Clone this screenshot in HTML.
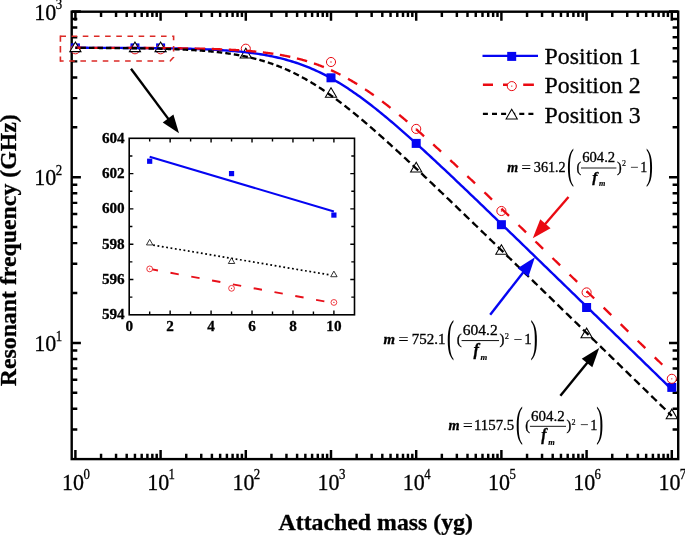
<!DOCTYPE html>
<html><head><meta charset="utf-8"><title>Resonant frequency vs attached mass</title>
<style>html,body{margin:0;padding:0;background:#fff}</style></head>
<body>
<svg width="685" height="535" viewBox="0 0 685 535" style="display:block;font-family:'Liberation Serif','Times New Roman',serif;stroke-linecap:butt">
<style>text{stroke:#000;stroke-width:0.3px;paint-order:stroke}text.t0{stroke:none}text.t1{stroke-width:0.15px}</style>
<rect width="685" height="535" fill="#fff"/>
<rect x="71.7" y="11.7" width="606.5" height="447.40000000000003" fill="none" stroke="#000" stroke-width="2.4"/>
<path d="M75.40,459.1 v-9 M75.40,11.7 v9 M101.05,459.1 v-5.3 M101.05,11.7 v5.3 M116.05,459.1 v-5.3 M116.05,11.7 v5.3 M126.70,459.1 v-5.3 M126.70,11.7 v5.3 M134.95,459.1 v-5.3 M134.95,11.7 v5.3 M141.70,459.1 v-5.3 M141.70,11.7 v5.3 M147.40,459.1 v-5.3 M147.40,11.7 v5.3 M152.34,459.1 v-5.3 M152.34,11.7 v5.3 M156.70,459.1 v-5.3 M156.70,11.7 v5.3 M160.60,459.1 v-9 M160.60,11.7 v9 M186.25,459.1 v-5.3 M186.25,11.7 v5.3 M201.25,459.1 v-5.3 M201.25,11.7 v5.3 M211.90,459.1 v-5.3 M211.90,11.7 v5.3 M220.15,459.1 v-5.3 M220.15,11.7 v5.3 M226.90,459.1 v-5.3 M226.90,11.7 v5.3 M232.60,459.1 v-5.3 M232.60,11.7 v5.3 M237.54,459.1 v-5.3 M237.54,11.7 v5.3 M241.90,459.1 v-5.3 M241.90,11.7 v5.3 M245.80,459.1 v-9 M245.80,11.7 v9 M271.45,459.1 v-5.3 M271.45,11.7 v5.3 M286.45,459.1 v-5.3 M286.45,11.7 v5.3 M297.10,459.1 v-5.3 M297.10,11.7 v5.3 M305.35,459.1 v-5.3 M305.35,11.7 v5.3 M312.10,459.1 v-5.3 M312.10,11.7 v5.3 M317.80,459.1 v-5.3 M317.80,11.7 v5.3 M322.74,459.1 v-5.3 M322.74,11.7 v5.3 M327.10,459.1 v-5.3 M327.10,11.7 v5.3 M331.00,459.1 v-9 M331.00,11.7 v9 M356.65,459.1 v-5.3 M356.65,11.7 v5.3 M371.65,459.1 v-5.3 M371.65,11.7 v5.3 M382.30,459.1 v-5.3 M382.30,11.7 v5.3 M390.55,459.1 v-5.3 M390.55,11.7 v5.3 M397.30,459.1 v-5.3 M397.30,11.7 v5.3 M403.00,459.1 v-5.3 M403.00,11.7 v5.3 M407.94,459.1 v-5.3 M407.94,11.7 v5.3 M412.30,459.1 v-5.3 M412.30,11.7 v5.3 M416.20,459.1 v-9 M416.20,11.7 v9 M441.85,459.1 v-5.3 M441.85,11.7 v5.3 M456.85,459.1 v-5.3 M456.85,11.7 v5.3 M467.50,459.1 v-5.3 M467.50,11.7 v5.3 M475.75,459.1 v-5.3 M475.75,11.7 v5.3 M482.50,459.1 v-5.3 M482.50,11.7 v5.3 M488.20,459.1 v-5.3 M488.20,11.7 v5.3 M493.14,459.1 v-5.3 M493.14,11.7 v5.3 M497.50,459.1 v-5.3 M497.50,11.7 v5.3 M501.40,459.1 v-9 M501.40,11.7 v9 M527.05,459.1 v-5.3 M527.05,11.7 v5.3 M542.05,459.1 v-5.3 M542.05,11.7 v5.3 M552.70,459.1 v-5.3 M552.70,11.7 v5.3 M560.95,459.1 v-5.3 M560.95,11.7 v5.3 M567.70,459.1 v-5.3 M567.70,11.7 v5.3 M573.40,459.1 v-5.3 M573.40,11.7 v5.3 M578.34,459.1 v-5.3 M578.34,11.7 v5.3 M582.70,459.1 v-5.3 M582.70,11.7 v5.3 M586.60,459.1 v-9 M586.60,11.7 v9 M612.25,459.1 v-5.3 M612.25,11.7 v5.3 M627.25,459.1 v-5.3 M627.25,11.7 v5.3 M637.90,459.1 v-5.3 M637.90,11.7 v5.3 M646.15,459.1 v-5.3 M646.15,11.7 v5.3 M652.90,459.1 v-5.3 M652.90,11.7 v5.3 M658.60,459.1 v-5.3 M658.60,11.7 v5.3 M663.54,459.1 v-5.3 M663.54,11.7 v5.3 M667.90,459.1 v-5.3 M667.90,11.7 v5.3 M671.80,459.1 v-9 M671.80,11.7 v9 M71.7,429.54 h5.6 M678.2,429.54 h-5.6 M71.7,408.84 h5.6 M678.2,408.84 h-5.6 M71.7,392.78 h5.6 M678.2,392.78 h-5.6 M71.7,379.66 h5.6 M678.2,379.66 h-5.6 M71.7,368.57 h5.6 M678.2,368.57 h-5.6 M71.7,358.96 h5.6 M678.2,358.96 h-5.6 M71.7,350.48 h5.6 M678.2,350.48 h-5.6 M71.7,342.90 h9.2 M678.2,342.90 h-9.2 M71.7,293.02 h5.6 M678.2,293.02 h-5.6 M71.7,263.84 h5.6 M678.2,263.84 h-5.6 M71.7,243.14 h5.6 M678.2,243.14 h-5.6 M71.7,227.08 h5.6 M678.2,227.08 h-5.6 M71.7,213.96 h5.6 M678.2,213.96 h-5.6 M71.7,202.87 h5.6 M678.2,202.87 h-5.6 M71.7,193.26 h5.6 M678.2,193.26 h-5.6 M71.7,184.78 h5.6 M678.2,184.78 h-5.6 M71.7,177.20 h9.2 M678.2,177.20 h-9.2 M71.7,127.32 h5.6 M678.2,127.32 h-5.6 M71.7,98.14 h5.6 M678.2,98.14 h-5.6 M71.7,77.44 h5.6 M678.2,77.44 h-5.6 M71.7,61.38 h5.6 M678.2,61.38 h-5.6 M71.7,48.26 h5.6 M678.2,48.26 h-5.6 M71.7,37.17 h5.6 M678.2,37.17 h-5.6 M71.7,27.56 h5.6 M678.2,27.56 h-5.6 M71.7,19.08 h5.6 M678.2,19.08 h-5.6 M71.7,11.50 h9.2 M678.2,11.50 h-9.2" stroke="#000" stroke-width="2.45" fill="none"/>
<g id="markers">
<rect x="70.90" y="43.40" width="9" height="9" fill="#0505f2"/>
<rect x="130.45" y="43.40" width="9" height="9" fill="#0505f2"/>
<rect x="156.10" y="43.40" width="9" height="9" fill="#0505f2"/>
<rect x="326.50" y="73.30" width="9" height="9" fill="#0505f2"/>
<rect x="411.70" y="138.90" width="9" height="9" fill="#0505f2"/>
<rect x="496.90" y="220.20" width="9" height="9" fill="#0505f2"/>
<rect x="582.10" y="303.00" width="9" height="9" fill="#0505f2"/>
<rect x="667.30" y="382.90" width="9" height="9" fill="#0505f2"/>
<circle cx="75.40" cy="49.30" r="4.55" fill="#fff" stroke="#ea0a12" stroke-width="1.0"/><circle cx="75.40" cy="49.30" r="0.65" fill="#ea0a12"/>
<circle cx="134.95" cy="49.30" r="4.55" fill="#fff" stroke="#ea0a12" stroke-width="1.0"/><circle cx="134.95" cy="49.30" r="0.65" fill="#ea0a12"/>
<circle cx="160.60" cy="49.30" r="4.55" fill="#fff" stroke="#ea0a12" stroke-width="1.0"/><circle cx="160.60" cy="49.30" r="0.65" fill="#ea0a12"/>
<circle cx="245.80" cy="48.70" r="4.55" fill="#fff" stroke="#ea0a12" stroke-width="1.0"/><circle cx="245.80" cy="48.70" r="0.65" fill="#ea0a12"/>
<circle cx="331.00" cy="62.00" r="4.55" fill="#fff" stroke="#ea0a12" stroke-width="1.0"/><circle cx="331.00" cy="62.00" r="0.65" fill="#ea0a12"/>
<circle cx="416.20" cy="128.90" r="4.55" fill="#fff" stroke="#ea0a12" stroke-width="1.0"/><circle cx="416.20" cy="128.90" r="0.65" fill="#ea0a12"/>
<circle cx="501.40" cy="211.00" r="4.55" fill="#fff" stroke="#ea0a12" stroke-width="1.0"/><circle cx="501.40" cy="211.00" r="0.65" fill="#ea0a12"/>
<circle cx="586.60" cy="292.40" r="4.55" fill="#fff" stroke="#ea0a12" stroke-width="1.0"/><circle cx="586.60" cy="292.40" r="0.65" fill="#ea0a12"/>
<circle cx="671.80" cy="378.80" r="4.55" fill="#fff" stroke="#ea0a12" stroke-width="1.0"/><circle cx="671.80" cy="378.80" r="0.65" fill="#ea0a12"/>
<path d="M75.40,42.02 L81.00,51.62 L69.80,51.62 Z" fill="#fff" stroke="#000" stroke-width="1.05" stroke-linejoin="miter"/>
<path d="M134.95,42.02 L140.55,51.62 L129.35,51.62 Z" fill="#fff" stroke="#000" stroke-width="1.05" stroke-linejoin="miter"/>
<path d="M160.60,42.02 L166.20,51.62 L155.00,51.62 Z" fill="#fff" stroke="#000" stroke-width="1.05" stroke-linejoin="miter"/>
<path d="M245.80,48.32 L251.40,57.92 L240.20,57.92 Z" fill="#fff" stroke="#000" stroke-width="1.05" stroke-linejoin="miter"/>
<path d="M331.00,87.72 L336.60,97.32 L325.40,97.32 Z" fill="#fff" stroke="#000" stroke-width="1.05" stroke-linejoin="miter"/>
<path d="M416.20,162.32 L421.80,171.92 L410.60,171.92 Z" fill="#fff" stroke="#000" stroke-width="1.05" stroke-linejoin="miter"/>
<path d="M501.40,244.72 L507.00,254.32 L495.80,254.32 Z" fill="#fff" stroke="#000" stroke-width="1.05" stroke-linejoin="miter"/>
<path d="M586.60,328.12 L592.20,337.72 L581.00,337.72 Z" fill="#fff" stroke="#000" stroke-width="1.05" stroke-linejoin="miter"/>
<path d="M671.80,409.12 L677.40,418.72 L666.20,418.72 Z" fill="#fff" stroke="#000" stroke-width="1.05" stroke-linejoin="miter"/>
</g>
<path d="M75.40,47.81 L77.39,47.81 L79.38,47.81 L81.36,47.81 L83.35,47.82 L85.34,47.82 L87.33,47.82 L89.32,47.83 L91.30,47.83 L93.29,47.84 L95.28,47.84 L97.27,47.84 L99.26,47.85 L101.24,47.85 L103.23,47.86 L105.22,47.87 L107.21,47.87 L109.20,47.88 L111.18,47.88 L113.17,47.89 L115.16,47.90 L117.15,47.91 L119.14,47.91 L121.12,47.92 L123.11,47.93 L125.10,47.94 L127.09,47.95 L129.08,47.96 L131.06,47.97 L133.05,47.98 L135.04,48.00 L137.03,48.01 L139.02,48.02 L141.00,48.04 L142.99,48.05 L144.98,48.07 L146.97,48.09 L148.96,48.11 L150.94,48.13 L152.93,48.15 L154.92,48.17 L156.91,48.19 L158.90,48.21 L160.88,48.24 L162.87,48.26 L164.86,48.29 L166.85,48.32 L168.84,48.35 L170.82,48.38 L172.81,48.42 L174.80,48.45 L176.79,48.49 L178.78,48.53 L180.76,48.57 L182.75,48.62 L184.74,48.67 L186.73,48.71 L188.72,48.77 L190.70,48.82 L192.69,48.88 L194.68,48.94 L196.67,49.00 L198.66,49.07 L200.64,49.14 L202.63,49.22 L204.62,49.30 L206.61,49.38 L208.60,49.47 L210.58,49.56 L212.57,49.66 L214.56,49.76 L216.55,49.87 L218.54,49.98 L220.52,50.10 L222.51,50.22 L224.50,50.35 L226.49,50.49 L228.48,50.64 L230.46,50.79 L232.45,50.95 L234.44,51.12 L236.43,51.29 L238.42,51.48 L240.40,51.67 L242.39,51.88 L244.38,52.09 L246.37,52.32 L248.36,52.55 L250.34,52.80 L252.33,53.06 L254.32,53.33 L256.31,53.61 L258.30,53.91 L260.28,54.22 L262.27,54.54 L264.26,54.88 L266.25,55.24 L268.24,55.61 L270.22,56.00 L272.21,56.40 L274.20,56.82 L276.19,57.26 L278.18,57.72 L280.16,58.20 L282.15,58.69 L284.14,59.21 L286.13,59.75 L288.12,60.31 L290.10,60.89 L292.09,61.49 L294.08,62.11 L296.07,62.76 L298.06,63.43 L300.04,64.12 L302.03,64.84 L304.02,65.59 L306.01,66.35 L308.00,67.15 L309.98,67.97 L311.97,68.81 L313.96,69.68 L315.95,70.57 L317.94,71.49 L319.92,72.44 L321.91,73.41 L323.90,74.41 L325.89,75.44 L327.88,76.49 L329.86,77.56 L331.85,78.66 L333.84,79.79 L335.83,80.94 L337.82,82.12 L339.80,83.32 L341.79,84.55 L343.78,85.80 L345.77,87.07 L347.76,88.37 L349.74,89.68 L351.73,91.03 L353.72,92.39 L355.71,93.77 L357.70,95.18 L359.68,96.60 L361.67,98.05 L363.66,99.52 L365.65,101.00 L367.64,102.50 L369.62,104.02 L371.61,105.56 L373.60,107.11 L375.59,108.68 L377.58,110.27 L379.56,111.87 L381.55,113.48 L383.54,115.11 L385.53,116.75 L387.52,118.41 L389.50,120.08 L391.49,121.76 L393.48,123.45 L395.47,125.15 L397.46,126.86 L399.44,128.59 L401.43,130.32 L403.42,132.06 L405.41,133.82 L407.40,135.58 L409.38,137.35 L411.37,139.12 L413.36,140.91 L415.35,142.70 L417.34,144.50 L419.32,146.30 L421.31,148.11 L423.30,149.93 L425.29,151.75 L427.28,153.58 L429.26,155.42 L431.25,157.25 L433.24,159.10 L435.23,160.94 L437.22,162.80 L439.20,164.65 L441.19,166.51 L443.18,168.38 L445.17,170.24 L447.16,172.11 L449.14,173.99 L451.13,175.87 L453.12,177.74 L455.11,179.63 L457.10,181.51 L459.08,183.40 L461.07,185.29 L463.06,187.18 L465.05,189.08 L467.04,190.97 L469.02,192.87 L471.01,194.77 L473.00,196.67 L474.99,198.57 L476.98,200.48 L478.96,202.38 L480.95,204.29 L482.94,206.20 L484.93,208.11 L486.92,210.02 L488.90,211.93 L490.89,213.85 L492.88,215.76 L494.87,217.68 L496.86,219.59 L498.84,221.51 L500.83,223.43 L502.82,225.35 L504.81,227.27 L506.80,229.19 L508.78,231.11 L510.77,233.03 L512.76,234.95 L514.75,236.88 L516.74,238.80 L518.72,240.72 L520.71,242.65 L522.70,244.57 L524.69,246.50 L526.68,248.42 L528.66,250.35 L530.65,252.28 L532.64,254.20 L534.63,256.13 L536.62,258.06 L538.60,259.99 L540.59,261.91 L542.58,263.84 L544.57,265.77 L546.56,267.70 L548.54,269.63 L550.53,271.56 L552.52,273.49 L554.51,275.42 L556.50,277.35 L558.48,279.28 L560.47,281.21 L562.46,283.14 L564.45,285.07 L566.44,287.00 L568.42,288.93 L570.41,290.86 L572.40,292.79 L574.39,294.72 L576.38,296.65 L578.36,298.58 L580.35,300.52 L582.34,302.45 L584.33,304.38 L586.32,306.31 L588.30,308.24 L590.29,310.17 L592.28,312.11 L594.27,314.04 L596.26,315.97 L598.24,317.90 L600.23,319.83 L602.22,321.77 L604.21,323.70 L606.20,325.63 L608.18,327.56 L610.17,329.50 L612.16,331.43 L614.15,333.36 L616.14,335.29 L618.12,337.22 L620.11,339.16 L622.10,341.09 L624.09,343.02 L626.08,344.96 L628.06,346.89 L630.05,348.82 L632.04,350.75 L634.03,352.69 L636.02,354.62 L638.00,356.55 L639.99,358.48 L641.98,360.42 L643.97,362.35 L645.96,364.28 L647.94,366.22 L649.93,368.15 L651.92,370.08 L653.91,372.01 L655.90,373.95 L657.88,375.88 L659.87,377.81 L661.86,379.75 L663.85,381.68 L665.84,383.61 L667.82,385.55 L669.81,387.48 L671.80,389.41" fill="none" stroke="#0505f2" stroke-width="2.4"/>
<path d="M75.40,47.79 L75.92,47.79 L76.45,47.79 L76.97,47.79 L77.50,47.79 L78.02,47.79 L78.55,47.79 L79.07,47.79 L79.60,47.79 L80.12,47.79 L80.65,47.79 L81.17,47.79 L81.70,47.80 L82.22,47.80 L82.75,47.80 L83.27,47.80 L83.80,47.80 L84.32,47.80 L84.85,47.80 L85.37,47.80 L85.90,47.80 M92.44,47.81 L92.96,47.81 L93.49,47.81 L94.01,47.81 L94.54,47.81 L95.06,47.81 L95.59,47.81 L96.11,47.81 L96.64,47.81 L97.16,47.81 L97.69,47.82 L98.21,47.82 L98.74,47.82 L99.26,47.82 L99.79,47.82 L100.31,47.82 L100.84,47.82 L101.36,47.82 L101.89,47.82 L102.41,47.82 L102.94,47.82 M109.48,47.84 L110.00,47.84 L110.53,47.84 L111.05,47.84 L111.58,47.84 L112.10,47.84 L112.63,47.84 L113.15,47.84 L113.68,47.85 L114.20,47.85 L114.73,47.85 L115.25,47.85 L115.78,47.85 L116.30,47.85 L116.83,47.85 L117.35,47.85 L117.88,47.86 L118.40,47.86 L118.93,47.86 L119.45,47.86 L119.98,47.86 M126.52,47.88 L127.04,47.88 L127.57,47.89 L128.09,47.89 L128.62,47.89 L129.14,47.89 L129.67,47.89 L130.19,47.89 L130.72,47.90 L131.24,47.90 L131.77,47.90 L132.29,47.90 L132.82,47.90 L133.34,47.91 L133.87,47.91 L134.39,47.91 L134.92,47.91 L135.44,47.92 L135.97,47.92 L136.49,47.92 L137.02,47.92 M143.56,47.95 L144.08,47.96 L144.61,47.96 L145.13,47.96 L145.66,47.97 L146.18,47.97 L146.71,47.97 L147.23,47.97 L147.76,47.98 L148.28,47.98 L148.81,47.98 L149.33,47.99 L149.86,47.99 L150.38,47.99 L150.91,48.00 L151.43,48.00 L151.96,48.00 L152.48,48.01 L153.01,48.01 L153.53,48.01 L154.06,48.02 M160.60,48.07 L161.12,48.07 L161.65,48.08 L162.17,48.08 L162.70,48.09 L163.22,48.09 L163.75,48.10 L164.27,48.10 L164.80,48.10 L165.32,48.11 L165.85,48.11 L166.37,48.12 L166.90,48.13 L167.42,48.13 L167.95,48.14 L168.47,48.14 L169.00,48.15 L169.52,48.15 L170.05,48.16 L170.57,48.16 L171.10,48.17 M177.64,48.25 L178.16,48.25 L178.69,48.26 L179.21,48.27 L179.74,48.28 L180.26,48.28 L180.79,48.29 L181.31,48.30 L181.84,48.31 L182.36,48.31 L182.89,48.32 L183.41,48.33 L183.94,48.34 L184.46,48.35 L184.99,48.35 L185.51,48.36 L186.04,48.37 L186.56,48.38 L187.09,48.39 L187.61,48.40 L188.14,48.41 M194.68,48.53 L195.20,48.54 L195.73,48.55 L196.25,48.56 L196.78,48.58 L197.30,48.59 L197.83,48.60 L198.35,48.61 L198.88,48.62 L199.40,48.63 L199.93,48.65 L200.45,48.66 L200.98,48.67 L201.50,48.69 L202.03,48.70 L202.55,48.71 L203.08,48.73 L203.60,48.74 L204.13,48.75 L204.65,48.77 L205.18,48.78 M211.72,48.98 L212.24,48.99 L212.77,49.01 L213.29,49.03 L213.82,49.04 L214.34,49.06 L214.87,49.08 L215.39,49.10 L215.92,49.12 L216.44,49.14 L216.97,49.16 L217.49,49.18 L218.02,49.20 L218.54,49.22 L219.07,49.24 L219.59,49.26 L220.12,49.28 L220.64,49.30 L221.17,49.32 L221.69,49.34 L222.22,49.37 M228.76,49.67 L229.28,49.69 L229.81,49.72 L230.33,49.75 L230.86,49.78 L231.38,49.80 L231.91,49.83 L232.43,49.86 L232.96,49.89 L233.48,49.92 L234.01,49.95 L234.53,49.98 L235.06,50.01 L235.58,50.04 L236.11,50.07 L236.63,50.11 L237.16,50.14 L237.68,50.17 L238.21,50.21 L238.73,50.24 L239.26,50.27 M245.80,50.74 L246.32,50.78 L246.85,50.82 L247.37,50.86 L247.90,50.91 L248.42,50.95 L248.95,50.99 L249.47,51.04 L250.00,51.08 L250.52,51.13 L251.05,51.17 L251.57,51.22 L252.10,51.27 L252.62,51.31 L253.15,51.36 L253.67,51.41 L254.20,51.46 L254.72,51.51 L255.25,51.56 L255.77,51.61 L256.30,51.67 M262.84,52.38 L263.34,52.43 L263.84,52.49 L264.34,52.55 L264.84,52.62 L265.34,52.68 L265.84,52.74 L266.34,52.80 L266.84,52.87 L267.34,52.93 L267.84,53.00 L268.34,53.06 L268.84,53.13 L269.34,53.20 L269.84,53.27 L270.34,53.34 L270.84,53.41 L271.34,53.48 L271.84,53.55 L272.34,53.62 L272.84,53.70 L273.34,53.77 M279.88,54.82 L280.40,54.92 L280.92,55.01 L281.44,55.10 L281.96,55.19 L282.48,55.29 L283.00,55.39 L283.52,55.48 L284.04,55.58 L284.56,55.68 L285.08,55.78 L285.60,55.88 L286.12,55.98 L286.64,56.09 L287.16,56.19 L287.68,56.30 L288.20,56.41 L288.72,56.52 L289.24,56.63 L289.76,56.74 L290.28,56.85 M296.92,58.39 L297.43,58.52 L297.94,58.65 L298.45,58.78 L298.96,58.91 L299.47,59.05 L299.98,59.18 L300.49,59.32 L301.00,59.45 L301.51,59.59 L302.02,59.73 L302.53,59.87 L303.04,60.01 L303.55,60.16 L304.06,60.30 L304.57,60.45 L305.08,60.60 L305.59,60.75 L306.10,60.90 L306.61,61.05 L307.12,61.20 M313.96,63.41 L314.48,63.59 L315.00,63.77 L315.52,63.96 L316.04,64.14 L316.57,64.33 L317.09,64.52 L317.61,64.71 L318.13,64.90 L318.65,65.09 L319.17,65.28 L319.69,65.48 L320.21,65.68 L320.73,65.88 L321.25,66.08 L321.78,66.28 L322.30,66.49 L322.82,66.69 L323.34,66.90 L323.86,67.11 M331.00,70.16 L331.50,70.39 L332.00,70.62 L332.50,70.85 L333.00,71.08 L333.50,71.31 L334.00,71.55 L334.50,71.78 L335.00,72.02 L335.50,72.26 L336.00,72.50 L336.50,72.74 L337.00,72.99 L337.50,73.23 L338.00,73.48 L338.50,73.73 L339.00,73.98 L339.50,74.23 L340.00,74.49 L340.50,74.74 M348.04,78.79 L348.55,79.08 L349.05,79.37 L349.56,79.65 L350.06,79.94 L350.57,80.24 L351.07,80.53 L351.58,80.82 L352.08,81.12 L352.59,81.42 L353.10,81.72 L353.60,82.02 L354.11,82.32 L354.61,82.63 L355.12,82.93 L355.62,83.24 L356.13,83.55 L356.63,83.86 L357.14,84.17 M365.08,89.27 L365.59,89.61 L366.10,89.96 L366.62,90.30 L367.13,90.65 L367.64,90.99 L368.15,91.34 L368.66,91.69 L369.17,92.04 L369.69,92.40 L370.20,92.75 L370.71,93.11 L371.22,93.46 L371.73,93.82 L372.24,94.18 L372.76,94.54 L373.27,94.91 L373.78,95.27 M382.12,101.39 L382.65,101.79 L383.17,102.18 L383.70,102.58 L384.22,102.98 L384.75,103.38 L385.27,103.78 L385.80,104.19 L386.32,104.59 L386.85,105.00 L387.37,105.41 L387.90,105.81 L388.42,106.22 L388.95,106.63 L389.47,107.05 L390.00,107.46 L390.52,107.87 M399.16,114.84 L399.67,115.25 L400.17,115.67 L400.68,116.09 L401.19,116.51 L401.69,116.93 L402.20,117.35 L402.70,117.77 L403.21,118.19 L403.72,118.61 L404.22,119.04 L404.73,119.46 L405.24,119.89 L405.74,120.32 L406.25,120.74 L406.75,121.17 L407.26,121.60 M416.20,129.29 L416.73,129.75 L417.25,130.21 L417.78,130.67 L418.31,131.13 L418.83,131.59 L419.36,132.05 L419.89,132.52 L420.41,132.98 L420.94,133.44 L421.47,133.91 L421.99,134.38 L422.52,134.84 L423.05,135.31 L423.57,135.78 L424.10,136.24 M433.24,144.45 L433.76,144.92 L434.28,145.40 L434.80,145.87 L435.32,146.34 L435.84,146.81 L436.36,147.29 L436.88,147.76 L437.40,148.24 L437.92,148.71 L438.44,149.19 L438.96,149.66 L439.48,150.14 L440.00,150.61 L440.52,151.09 L441.04,151.57 M450.28,160.11 L450.79,160.58 L451.31,161.06 L451.82,161.54 L452.33,162.02 L452.85,162.50 L453.36,162.97 L453.87,163.45 L454.39,163.93 L454.90,164.41 L455.41,164.89 L455.93,165.37 L456.44,165.85 L456.95,166.33 L457.47,166.81 L457.98,167.30 M467.32,176.09 L467.83,176.57 L468.35,177.06 L468.86,177.54 L469.37,178.03 L469.89,178.51 L470.40,179.00 L470.91,179.49 L471.43,179.97 L471.94,180.46 L472.45,180.95 L472.97,181.43 L473.48,181.92 L473.99,182.41 L474.51,182.90 L475.02,183.38 M484.36,192.28 L484.87,192.76 L485.37,193.25 L485.88,193.73 L486.39,194.22 L486.89,194.70 L487.40,195.18 L487.91,195.67 L488.41,196.15 L488.92,196.64 L489.43,197.12 L489.93,197.61 L490.44,198.09 L490.95,198.58 L491.45,199.06 L491.96,199.55 M501.40,208.61 L501.91,209.10 L502.41,209.58 L502.92,210.07 L503.43,210.56 L503.93,211.05 L504.44,211.53 L504.95,212.02 L505.45,212.51 L505.96,213.00 L506.47,213.48 L506.97,213.97 L507.48,214.46 L507.99,214.95 L508.49,215.44 L509.00,215.92 M518.44,225.03 L518.95,225.52 L519.45,226.01 L519.96,226.50 L520.47,226.98 L520.97,227.47 L521.48,227.96 L521.99,228.45 L522.49,228.94 L523.00,229.43 L523.51,229.92 L524.01,230.41 L524.52,230.90 L525.03,231.39 L525.53,231.88 L526.04,232.37 M535.48,241.50 L535.99,241.99 L536.49,242.48 L537.00,242.97 L537.51,243.46 L538.01,243.95 L538.52,244.44 L539.03,244.93 L539.53,245.43 L540.04,245.92 L540.55,246.41 L541.05,246.90 L541.56,247.39 L542.07,247.88 L542.57,248.37 L543.08,248.86 M552.52,258.01 L553.03,258.50 L553.53,258.99 L554.04,259.48 L554.55,259.98 L555.05,260.47 L555.56,260.96 L556.07,261.45 L556.57,261.94 L557.08,262.43 L557.59,262.92 L558.09,263.42 L558.60,263.91 L559.11,264.40 L559.61,264.89 L560.12,265.38 M569.56,274.54 L570.07,275.03 L570.57,275.53 L571.08,276.02 L571.59,276.51 L572.09,277.00 L572.60,277.49 L573.11,277.98 L573.61,278.48 L574.12,278.97 L574.63,279.46 L575.13,279.95 L575.64,280.44 L576.15,280.94 L576.65,281.43 L577.16,281.92 M586.60,291.09 L587.11,291.58 L587.61,292.07 L588.12,292.56 L588.63,293.06 L589.13,293.55 L589.64,294.04 L590.15,294.53 L590.65,295.02 L591.16,295.52 L591.67,296.01 L592.17,296.50 L592.68,296.99 L593.19,297.49 L593.69,297.98 L594.20,298.47 M603.64,307.64 L604.15,308.13 L604.65,308.63 L605.16,309.12 L605.67,309.61 L606.17,310.10 L606.68,310.60 L607.19,311.09 L607.69,311.58 L608.20,312.07 L608.71,312.57 L609.21,313.06 L609.72,313.55 L610.23,314.04 L610.73,314.54 L611.24,315.03 M620.68,324.20 L621.19,324.69 L621.69,325.19 L622.20,325.68 L622.71,326.17 L623.21,326.66 L623.72,327.16 L624.23,327.65 L624.73,328.14 L625.24,328.63 L625.75,329.13 L626.25,329.62 L626.76,330.11 L627.27,330.60 L627.77,331.10 L628.28,331.59 M637.72,340.77 L638.23,341.26 L638.73,341.75 L639.24,342.24 L639.75,342.74 L640.25,343.23 L640.76,343.72 L641.27,344.21 L641.77,344.71 L642.28,345.20 L642.79,345.69 L643.29,346.18 L643.80,346.68 L644.31,347.17 L644.81,347.66 L645.32,348.15 M654.76,357.33 L655.27,357.82 L655.77,358.32 L656.28,358.81 L656.79,359.30 L657.29,359.80 L657.80,360.29 L658.31,360.78 L658.81,361.27 L659.32,361.77 L659.83,362.26 L660.33,362.75 L660.84,363.24 L661.35,363.74 L661.85,364.23 L662.36,364.72" fill="none" stroke="#ea0a12" stroke-width="2.35"/>
<path d="M75.40,47.86 L75.90,47.86 L76.40,47.86 L76.90,47.86 L77.40,47.86 M80.42,47.87 L80.92,47.87 L81.42,47.88 L81.92,47.88 L82.42,47.88 L82.92,47.88 L83.42,47.88 L83.92,47.88 L84.42,47.89 L84.92,47.89 L85.42,47.89 L85.92,47.89 M88.94,47.90 L89.44,47.90 L89.94,47.91 L90.44,47.91 L90.94,47.91 L91.44,47.91 L91.94,47.91 L92.44,47.92 L92.94,47.92 L93.44,47.92 L93.94,47.92 L94.44,47.92 M97.46,47.94 L97.96,47.94 L98.46,47.94 L98.96,47.95 L99.46,47.95 L99.96,47.95 L100.46,47.95 L100.96,47.96 L101.46,47.96 L101.96,47.96 L102.46,47.96 L102.96,47.97 M105.98,47.99 L106.48,47.99 L106.98,47.99 L107.48,47.99 L107.98,48.00 L108.48,48.00 L108.98,48.00 L109.48,48.01 L109.98,48.01 L110.48,48.01 L110.98,48.02 L111.48,48.02 M114.50,48.04 L115.00,48.05 L115.50,48.05 L116.00,48.06 L116.50,48.06 L117.00,48.06 L117.50,48.07 L118.00,48.07 L118.50,48.08 L119.00,48.08 L119.50,48.08 L120.00,48.09 M123.02,48.12 L123.52,48.12 L124.02,48.13 L124.52,48.13 L125.02,48.14 L125.52,48.14 L126.02,48.15 L126.52,48.15 L127.02,48.16 L127.52,48.16 L128.02,48.17 L128.52,48.17 M131.54,48.21 L132.04,48.22 L132.54,48.22 L133.04,48.23 L133.54,48.23 L134.04,48.24 L134.54,48.25 L135.04,48.25 L135.54,48.26 L136.04,48.27 L136.54,48.27 L137.04,48.28 M140.06,48.33 L140.56,48.33 L141.06,48.34 L141.56,48.35 L142.06,48.36 L142.56,48.36 L143.06,48.37 L143.56,48.38 L144.06,48.39 L144.56,48.40 L145.06,48.41 L145.56,48.42 M148.58,48.47 L149.08,48.48 L149.58,48.49 L150.08,48.50 L150.58,48.51 L151.08,48.52 L151.58,48.53 L152.08,48.54 L152.58,48.55 L153.08,48.56 L153.58,48.57 L154.08,48.58 M157.10,48.65 L157.60,48.67 L158.10,48.68 L158.60,48.69 L159.10,48.70 L159.60,48.72 L160.10,48.73 L160.60,48.74 L161.10,48.75 L161.60,48.77 L162.10,48.78 L162.60,48.79 M165.62,48.88 L166.12,48.90 L166.62,48.91 L167.12,48.93 L167.62,48.94 L168.12,48.96 L168.62,48.97 L169.12,48.99 L169.62,49.01 L170.12,49.02 L170.62,49.04 L171.12,49.06 M174.14,49.17 L174.64,49.19 L175.14,49.20 L175.64,49.22 L176.14,49.24 L176.64,49.26 L177.14,49.28 L177.64,49.30 L178.14,49.32 L178.64,49.34 L179.14,49.37 L179.64,49.39 M182.66,49.52 L183.16,49.55 L183.66,49.57 L184.16,49.59 L184.66,49.62 L185.16,49.64 L185.66,49.67 L186.16,49.69 L186.66,49.72 L187.16,49.74 L187.66,49.77 L188.16,49.80 M191.18,49.97 L191.68,49.99 L192.18,50.02 L192.68,50.05 L193.18,50.08 L193.68,50.11 L194.18,50.15 L194.68,50.18 L195.18,50.21 L195.68,50.24 L196.18,50.27 L196.68,50.31 M199.70,50.52 L200.20,50.55 L200.70,50.59 L201.20,50.63 L201.70,50.66 L202.20,50.70 L202.70,50.74 L203.20,50.78 L203.70,50.82 L204.20,50.86 L204.70,50.90 L205.20,50.94 M208.22,51.20 L208.72,51.24 L209.22,51.29 L209.72,51.33 L210.22,51.38 L210.72,51.43 L211.22,51.47 L211.72,51.52 L212.22,51.57 L212.72,51.62 L213.22,51.67 L213.72,51.72 M216.74,52.04 L217.24,52.09 L217.74,52.15 L218.24,52.20 L218.74,52.26 L219.24,52.32 L219.74,52.37 L220.24,52.43 L220.74,52.49 L221.24,52.55 L221.74,52.61 L222.24,52.68 M225.26,53.07 L225.76,53.13 L226.26,53.20 L226.76,53.27 L227.26,53.34 L227.76,53.41 L228.26,53.48 L228.76,53.55 L229.26,53.62 L229.76,53.70 L230.26,53.77 L230.76,53.85 M233.78,54.32 L234.28,54.40 L234.78,54.48 L235.28,54.57 L235.78,54.65 L236.28,54.74 L236.78,54.82 L237.28,54.91 L237.78,55.00 L238.28,55.09 L238.78,55.18 L239.28,55.27 M242.30,55.84 L242.80,55.94 L243.30,56.04 L243.80,56.14 L244.30,56.24 L244.80,56.34 L245.30,56.45 L245.80,56.55 L246.30,56.66 L246.80,56.77 L247.30,56.87 L247.80,56.98 M250.82,57.67 L251.32,57.79 L251.82,57.90 L252.32,58.02 L252.82,58.15 L253.32,58.27 L253.82,58.39 L254.32,58.52 L254.82,58.64 L255.32,58.77 L255.82,58.90 L256.32,59.03 M259.34,59.84 L259.84,59.98 L260.34,60.12 L260.84,60.27 L261.34,60.41 L261.84,60.55 L262.34,60.70 L262.84,60.85 L263.34,61.00 L263.84,61.15 L264.34,61.30 L264.84,61.45 M267.86,62.41 L268.36,62.57 L268.86,62.74 L269.36,62.90 L269.86,63.07 L270.36,63.24 L270.86,63.41 L271.36,63.58 L271.86,63.76 L272.36,63.93 L272.86,64.11 L273.36,64.29 M276.38,65.40 L276.88,65.59 L277.38,65.78 L277.88,65.97 L278.38,66.16 L278.88,66.36 L279.38,66.56 L279.88,66.75 L280.38,66.95 L280.88,67.16 L281.38,67.36 L281.88,67.56 M284.90,68.84 L285.40,69.05 L285.90,69.27 L286.40,69.49 L286.90,69.71 L287.40,69.94 L287.90,70.16 L288.40,70.39 L288.90,70.61 L289.40,70.84 L289.90,71.07 L290.40,71.31 M293.42,72.75 L293.92,72.99 L294.42,73.24 L294.92,73.48 L295.42,73.73 L295.92,73.98 L296.42,74.24 L296.92,74.49 L297.42,74.75 L297.92,75.00 L298.42,75.26 L298.92,75.52 M301.94,77.13 L302.44,77.41 L302.94,77.68 L303.44,77.95 L303.94,78.23 L304.44,78.51 L304.94,78.79 L305.44,79.07 L305.94,79.36 L306.44,79.64 L306.94,79.93 L307.44,80.21 M310.46,81.99 L310.96,82.29 L311.46,82.59 L311.96,82.89 L312.46,83.19 L312.96,83.50 L313.46,83.81 L313.96,84.12 L314.46,84.43 L314.96,84.74 L315.46,85.05 L315.96,85.36 M318.98,87.30 L319.48,87.62 L319.98,87.95 L320.48,88.27 L320.98,88.60 L321.48,88.93 L321.98,89.27 L322.48,89.60 L322.98,89.94 L323.48,90.27 L323.98,90.61 L324.48,90.95 M327.50,93.03 L328.00,93.37 L328.50,93.72 L329.00,94.08 L329.50,94.43 L330.00,94.78 L330.50,95.14 L331.00,95.49 L331.50,95.85 L332.00,96.21 L332.50,96.57 L333.00,96.93 M336.02,99.14 L336.52,99.51 L337.02,99.89 L337.52,100.26 L338.02,100.63 L338.52,101.01 L339.02,101.38 L339.52,101.76 L340.02,102.14 L340.52,102.52 L341.02,102.90 L341.52,103.28 M344.54,105.61 L345.04,106.00 L345.54,106.39 L346.04,106.78 L346.54,107.17 L347.04,107.57 L347.54,107.96 L348.04,108.36 L348.54,108.75 L349.04,109.15 L349.54,109.55 L350.04,109.95 M353.06,112.38 L353.56,112.79 L354.06,113.19 L354.56,113.60 L355.06,114.01 L355.56,114.42 L356.06,114.83 L356.56,115.24 L357.06,115.65 L357.56,116.07 L358.06,116.48 L358.56,116.89 M361.58,119.42 L362.08,119.84 L362.58,120.26 L363.08,120.68 L363.58,121.10 L364.08,121.52 L364.58,121.95 L365.08,122.37 L365.58,122.80 L366.08,123.22 L366.58,123.65 L367.08,124.08 M370.10,126.68 L370.60,127.11 L371.10,127.54 L371.60,127.97 L372.10,128.41 L372.60,128.84 L373.10,129.28 L373.60,129.72 L374.10,130.15 L374.60,130.59 L375.10,131.03 L375.60,131.47 M378.62,134.13 L379.12,134.57 L379.62,135.01 L380.12,135.45 L380.62,135.90 L381.12,136.34 L381.62,136.79 L382.12,137.23 L382.62,137.68 L383.12,138.13 L383.62,138.57 L384.12,139.02 M387.14,141.73 L387.64,142.18 L388.14,142.64 L388.64,143.09 L389.14,143.54 L389.64,143.99 L390.14,144.44 L390.64,144.90 L391.14,145.35 L391.64,145.81 L392.14,146.26 L392.64,146.72 M395.66,149.47 L396.16,149.93 L396.66,150.39 L397.16,150.85 L397.66,151.30 L398.16,151.76 L398.66,152.22 L399.16,152.68 L399.66,153.14 L400.16,153.60 L400.66,154.06 L401.16,154.52 M404.18,157.32 L404.68,157.78 L405.18,158.24 L405.68,158.71 L406.18,159.17 L406.68,159.63 L407.18,160.10 L407.68,160.56 L408.18,161.03 L408.68,161.49 L409.18,161.96 L409.68,162.43 M412.70,165.25 L413.20,165.71 L413.70,166.18 L414.20,166.65 L414.70,167.12 L415.20,167.59 L415.70,168.06 L416.20,168.53 L416.70,169.00 L417.20,169.46 L417.70,169.93 L418.20,170.40 M421.22,173.25 L421.72,173.72 L422.22,174.19 L422.72,174.66 L423.22,175.13 L423.72,175.61 L424.22,176.08 L424.72,176.55 L425.22,177.02 L425.72,177.50 L426.22,177.97 L426.72,178.44 M429.74,181.31 L430.24,181.78 L430.74,182.25 L431.24,182.73 L431.74,183.20 L432.24,183.68 L432.74,184.15 L433.24,184.63 L433.74,185.11 L434.24,185.58 L434.74,186.06 L435.24,186.53 M438.26,189.41 L438.76,189.89 L439.26,190.36 L439.76,190.84 L440.26,191.32 L440.76,191.79 L441.26,192.27 L441.76,192.75 L442.26,193.23 L442.76,193.70 L443.26,194.18 L443.76,194.66 M446.78,197.55 L447.28,198.03 L447.78,198.51 L448.28,198.99 L448.78,199.47 L449.28,199.94 L449.78,200.42 L450.28,200.90 L450.78,201.38 L451.28,201.86 L451.78,202.34 L452.28,202.82 M455.30,205.72 L455.80,206.20 L456.30,206.68 L456.80,207.16 L457.30,207.64 L457.80,208.12 L458.30,208.60 L458.80,209.08 L459.30,209.56 L459.80,210.04 L460.30,210.53 L460.80,211.01 M463.82,213.91 L464.32,214.39 L464.82,214.88 L465.32,215.36 L465.82,215.84 L466.32,216.32 L466.82,216.80 L467.32,217.28 L467.82,217.77 L468.32,218.25 L468.82,218.73 L469.32,219.21 M472.34,222.12 L472.84,222.61 L473.34,223.09 L473.84,223.57 L474.34,224.05 L474.84,224.54 L475.34,225.02 L475.84,225.50 L476.34,225.99 L476.84,226.47 L477.34,226.95 L477.84,227.43 M480.86,230.35 L481.36,230.83 L481.86,231.32 L482.36,231.80 L482.86,232.28 L483.36,232.77 L483.86,233.25 L484.36,233.73 L484.86,234.22 L485.36,234.70 L485.86,235.18 L486.36,235.67 M489.38,238.59 L489.88,239.07 L490.38,239.56 L490.88,240.04 L491.38,240.53 L491.88,241.01 L492.38,241.49 L492.88,241.98 L493.38,242.46 L493.88,242.95 L494.38,243.43 L494.88,243.91 M497.90,246.84 L498.40,247.32 L498.90,247.81 L499.40,248.29 L499.90,248.78 L500.40,249.26 L500.90,249.74 L501.40,250.23 L501.90,250.71 L502.40,251.20 L502.90,251.68 L503.40,252.17 M506.42,255.09 L506.92,255.58 L507.42,256.06 L507.92,256.55 L508.42,257.03 L508.92,257.52 L509.42,258.00 L509.92,258.49 L510.42,258.97 L510.92,259.46 L511.42,259.94 L511.92,260.43 M514.94,263.36 L515.44,263.84 L515.94,264.33 L516.44,264.81 L516.94,265.30 L517.44,265.78 L517.94,266.27 L518.44,266.75 L518.94,267.24 L519.44,267.72 L519.94,268.21 L520.44,268.69 M523.46,271.62 L523.96,272.11 L524.46,272.59 L524.96,273.08 L525.46,273.56 L525.96,274.05 L526.46,274.53 L526.96,275.02 L527.46,275.50 L527.96,275.99 L528.46,276.48 L528.96,276.96 M531.98,279.89 L532.48,280.38 L532.98,280.86 L533.48,281.35 L533.98,281.83 L534.48,282.32 L534.98,282.81 L535.48,283.29 L535.98,283.78 L536.48,284.26 L536.98,284.75 L537.48,285.23 M540.50,288.17 L541.00,288.65 L541.50,289.14 L542.00,289.62 L542.50,290.11 L543.00,290.59 L543.50,291.08 L544.00,291.57 L544.50,292.05 L545.00,292.54 L545.50,293.02 L546.00,293.51 M549.02,296.44 L549.52,296.93 L550.02,297.41 L550.52,297.90 L551.02,298.38 L551.52,298.87 L552.02,299.36 L552.52,299.84 L553.02,300.33 L553.52,300.81 L554.02,301.30 L554.52,301.78 M557.54,304.72 L558.04,305.20 L558.54,305.69 L559.04,306.18 L559.54,306.66 L560.04,307.15 L560.54,307.63 L561.04,308.12 L561.54,308.61 L562.04,309.09 L562.54,309.58 L563.04,310.06 M566.06,313.00 L566.56,313.48 L567.06,313.97 L567.56,314.46 L568.06,314.94 L568.56,315.43 L569.06,315.91 L569.56,316.40 L570.06,316.89 L570.56,317.37 L571.06,317.86 L571.56,318.34 M574.58,321.28 L575.08,321.76 L575.58,322.25 L576.08,322.74 L576.58,323.22 L577.08,323.71 L577.58,324.19 L578.08,324.68 L578.58,325.17 L579.08,325.65 L579.58,326.14 L580.08,326.62 M583.10,329.56 L583.60,330.05 L584.10,330.53 L584.60,331.02 L585.10,331.50 L585.60,331.99 L586.10,332.48 L586.60,332.96 L587.10,333.45 L587.60,333.93 L588.10,334.42 L588.60,334.91 M591.62,337.84 L592.12,338.33 L592.62,338.81 L593.12,339.30 L593.62,339.79 L594.12,340.27 L594.62,340.76 L595.12,341.24 L595.62,341.73 L596.12,342.22 L596.62,342.70 L597.12,343.19 M600.14,346.12 L600.64,346.61 L601.14,347.10 L601.64,347.58 L602.14,348.07 L602.64,348.55 L603.14,349.04 L603.64,349.53 L604.14,350.01 L604.64,350.50 L605.14,350.99 L605.64,351.47 M608.66,354.41 L609.16,354.89 L609.66,355.38 L610.16,355.87 L610.66,356.35 L611.16,356.84 L611.66,357.32 L612.16,357.81 L612.66,358.30 L613.16,358.78 L613.66,359.27 L614.16,359.75 M617.18,362.69 L617.68,363.18 L618.18,363.66 L618.68,364.15 L619.18,364.64 L619.68,365.12 L620.18,365.61 L620.68,366.09 L621.18,366.58 L621.68,367.07 L622.18,367.55 L622.68,368.04 M625.70,370.98 L626.20,371.46 L626.70,371.95 L627.20,372.43 L627.70,372.92 L628.20,373.41 L628.70,373.89 L629.20,374.38 L629.70,374.86 L630.20,375.35 L630.70,375.84 L631.20,376.32 M634.22,379.26 L634.72,379.75 L635.22,380.23 L635.72,380.72 L636.22,381.20 L636.72,381.69 L637.22,382.18 L637.72,382.66 L638.22,383.15 L638.72,383.63 L639.22,384.12 L639.72,384.61 M642.74,387.54 L643.24,388.03 L643.74,388.52 L644.24,389.00 L644.74,389.49 L645.24,389.97 L645.74,390.46 L646.24,390.95 L646.74,391.43 L647.24,391.92 L647.74,392.41 L648.24,392.89 M651.26,395.83 L651.76,396.31 L652.26,396.80 L652.76,397.29 L653.26,397.77 L653.76,398.26 L654.26,398.74 L654.76,399.23 L655.26,399.72 L655.76,400.20 L656.26,400.69 L656.76,401.18 M659.78,404.11 L660.28,404.60 L660.78,405.08 L661.28,405.57 L661.78,406.06 L662.28,406.54 L662.78,407.03 L663.28,407.52 L663.78,408.00 L664.28,408.49 L664.78,408.97 L665.28,409.46 M668.30,412.40 L668.80,412.88 L669.30,413.37 L669.80,413.86 L670.30,414.34 L670.80,414.83 L671.30,415.31 L671.80,415.80" fill="none" stroke="#000" stroke-width="2.35"/>
<text x="62.00" y="489.5" font-size="23" textLength="22" lengthAdjust="spacingAndGlyphs">10</text><text x="83.40" y="479.4" font-size="14" textLength="6.4" lengthAdjust="spacingAndGlyphs">0</text>
<text x="147.20" y="489.5" font-size="23" textLength="22" lengthAdjust="spacingAndGlyphs">10</text><text x="168.60" y="479.4" font-size="14" textLength="6.4" lengthAdjust="spacingAndGlyphs">1</text>
<text x="232.40" y="489.5" font-size="23" textLength="22" lengthAdjust="spacingAndGlyphs">10</text><text x="253.80" y="479.4" font-size="14" textLength="6.4" lengthAdjust="spacingAndGlyphs">2</text>
<text x="317.60" y="489.5" font-size="23" textLength="22" lengthAdjust="spacingAndGlyphs">10</text><text x="339.00" y="479.4" font-size="14" textLength="6.4" lengthAdjust="spacingAndGlyphs">3</text>
<text x="402.80" y="489.5" font-size="23" textLength="22" lengthAdjust="spacingAndGlyphs">10</text><text x="424.20" y="479.4" font-size="14" textLength="6.4" lengthAdjust="spacingAndGlyphs">4</text>
<text x="488.00" y="489.5" font-size="23" textLength="22" lengthAdjust="spacingAndGlyphs">10</text><text x="509.40" y="479.4" font-size="14" textLength="6.4" lengthAdjust="spacingAndGlyphs">5</text>
<text x="573.20" y="489.5" font-size="23" textLength="22" lengthAdjust="spacingAndGlyphs">10</text><text x="594.60" y="479.4" font-size="14" textLength="6.4" lengthAdjust="spacingAndGlyphs">6</text>
<text x="658.40" y="489.5" font-size="23" textLength="22" lengthAdjust="spacingAndGlyphs">10</text><text x="679.80" y="479.4" font-size="14" textLength="6.4" lengthAdjust="spacingAndGlyphs">7</text>
<text x="34.3" y="19.6" font-size="23" textLength="22" lengthAdjust="spacingAndGlyphs">10</text><text x="55.7" y="9.3" font-size="14" textLength="6.4" lengthAdjust="spacingAndGlyphs">3</text>
<text x="34.3" y="185.3" font-size="23" textLength="22" lengthAdjust="spacingAndGlyphs">10</text><text x="55.7" y="175.0" font-size="14" textLength="6.4" lengthAdjust="spacingAndGlyphs">2</text>
<text x="34.3" y="351.0" font-size="23" textLength="22" lengthAdjust="spacingAndGlyphs">10</text><text x="55.7" y="340.7" font-size="14" textLength="6.4" lengthAdjust="spacingAndGlyphs">1</text>
<text x="278.6" y="530.1" font-size="23.8" font-weight="bold" textLength="194.3" lengthAdjust="spacingAndGlyphs">Attached mass (yg)</text>
<text transform="translate(16.2,386.3) rotate(-90)" font-size="23.8" font-weight="bold" textLength="272" lengthAdjust="spacingAndGlyphs">Resonant frequency (GHz)</text>
<path d="M482.5,55.9 H538" stroke="#0505f2" stroke-width="2.4"/><rect x="507.20" y="51.90" width="9" height="9" fill="#0505f2"/>
<path d="M482.9,84.8 H493 M503,84.8 H508 M523.2,84.8 H533.9" stroke="#ea0a12" stroke-width="2.4"/><circle cx="511.80" cy="86.10" r="4.55" fill="#fff" stroke="#ea0a12" stroke-width="1.0"/><circle cx="511.80" cy="86.10" r="0.65" fill="#ea0a12"/>
<path d="M482.9,113.9 H534" stroke="#000" stroke-width="2.3" stroke-dasharray="5 4.1"/><path d="M511.70,109.32 L517.30,118.92 L506.10,118.92 Z" fill="#fff" stroke="#000" stroke-width="1.05" stroke-linejoin="miter"/>
<text x="544.6" y="64.2" font-size="23" textLength="96.0" lengthAdjust="spacingAndGlyphs">Position 1</text>
<text x="544.6" y="93.0" font-size="23" textLength="96.0" lengthAdjust="spacingAndGlyphs">Position 2</text>
<text x="544.6" y="123.4" font-size="23" textLength="96.0" lengthAdjust="spacingAndGlyphs">Position 3</text>
<path d="M60.4,36.2 H173.6 V57.3 L170.1,61.0 H60.4" fill="none" stroke="#dc2a26" stroke-width="1.6" stroke-dasharray="5.6 5.575"/><path d="M60.4,35.4 V61.8" fill="none" stroke="#dc2a26" stroke-width="1.6" stroke-dasharray="6.4 4.2"/>
<path d="M131.00,68.80 L169.26,120.13" stroke="#000" stroke-width="2.4"/><path d="M179.00,133.20 L162.73,122.50 L173.40,114.55 Z" fill="#000"/>
<path d="M568.50,197.00 L544.11,225.21" stroke="#ea0a12" stroke-width="2.4"/><path d="M532.80,238.30 L540.28,219.25 L550.57,228.15 Z" fill="#ea0a12"/>
<path d="M490.20,314.80 L524.28,270.96" stroke="#0505f2" stroke-width="2.4"/><path d="M534.90,257.30 L528.42,276.71 L517.69,268.36 Z" fill="#0505f2"/>
<path d="M560.40,395.80 L588.30,361.43" stroke="#000" stroke-width="2.4"/><path d="M599.20,348.00 L592.32,367.27 L581.76,358.70 Z" fill="#000"/>
<g transform="translate(507.20,171.60) scale(1.0)" font-size="14"><text x="0" y="0" font-weight="bold" font-style="italic">m</text><text x="14.0" y="0.9" font-size="16" class="t0" textLength="9.9" lengthAdjust="spacingAndGlyphs">=</text><text x="26.6" y="0" textLength="31.9" lengthAdjust="spacingAndGlyphs">361.2</text><g transform="translate(0.00,0)"><text class="t0" transform="translate(59.9,6.1) scale(1.5,2.95)" x="0" y="0">(</text><text x="69.2" y="0">(</text><text x="75.0" y="-9.2" textLength="33" lengthAdjust="spacingAndGlyphs">604.2</text><path d="M73.8,-3.6 H109.2" stroke="#000" stroke-width="0.9"/><text x="85.0" y="10.2" font-size="15.5" font-weight="bold" font-style="italic">f</text><text class="t1" x="91.7" y="14.4" font-size="8.2" font-weight="bold" font-style="italic">m</text><text x="109.7" y="0">)</text><text class="t1" x="114.7" y="-5.4" font-size="8">2</text><text class="t0" x="122.9" y="0.4" font-size="15">−</text><text x="133.0" y="0">1</text><text class="t0" transform="translate(138.9,6.1) scale(1.5,2.95)" x="0" y="0">)</text></g></g>
<g transform="translate(383.50,344.40) scale(1.058)" font-size="14"><text x="0" y="0" font-weight="bold" font-style="italic">m</text><text x="14.0" y="0.9" font-size="16" class="t0" textLength="9.9" lengthAdjust="spacingAndGlyphs">=</text><text x="26.6" y="0" textLength="31.9" lengthAdjust="spacingAndGlyphs">752.1</text><g transform="translate(0.00,0)"><text class="t0" transform="translate(59.9,6.1) scale(1.5,2.95)" x="0" y="0">(</text><text x="69.2" y="0">(</text><text x="75.0" y="-9.2" textLength="33" lengthAdjust="spacingAndGlyphs">604.2</text><path d="M73.8,-3.6 H109.2" stroke="#000" stroke-width="0.9"/><text x="85.0" y="10.2" font-size="15.5" font-weight="bold" font-style="italic">f</text><text class="t1" x="91.7" y="14.4" font-size="8.2" font-weight="bold" font-style="italic">m</text><text x="109.7" y="0">)</text><text class="t1" x="114.7" y="-5.4" font-size="8">2</text><text class="t0" x="122.9" y="0.4" font-size="15">−</text><text x="133.0" y="0">1</text><text class="t0" transform="translate(138.9,6.1) scale(1.5,2.95)" x="0" y="0">)</text></g></g>
<g transform="translate(448.50,430.00) scale(1.02)" font-size="14"><text x="0" y="0" font-weight="bold" font-style="italic">m</text><text x="14.0" y="0.9" font-size="16" class="t0" textLength="9.9" lengthAdjust="spacingAndGlyphs">=</text><text x="24.9" y="0" textLength="39.6" lengthAdjust="spacingAndGlyphs">1157.5</text><g transform="translate(6.00,0)"><text class="t0" transform="translate(59.9,6.1) scale(1.5,2.95)" x="0" y="0">(</text><text x="69.2" y="0">(</text><text x="75.0" y="-9.2" textLength="33" lengthAdjust="spacingAndGlyphs">604.2</text><path d="M73.8,-3.6 H109.2" stroke="#000" stroke-width="0.9"/><text x="85.0" y="10.2" font-size="15.5" font-weight="bold" font-style="italic">f</text><text class="t1" x="91.7" y="14.4" font-size="8.2" font-weight="bold" font-style="italic">m</text><text x="109.7" y="0">)</text><text class="t1" x="114.7" y="-5.4" font-size="8">2</text><text class="t0" x="122.9" y="0.4" font-size="15">−</text><text x="133.0" y="0">1</text><text class="t0" transform="translate(138.9,6.1) scale(1.5,2.95)" x="0" y="0">)</text></g></g>
<rect x="129.2" y="138.3" width="225.3" height="176.5" fill="#fff" stroke="#000" stroke-width="1.6"/>
<path d="M149.67,314.8 v-3.2 M149.67,138.3 v3.2 M170.14,314.8 v-4.2 M170.14,138.3 v4.2 M190.61,314.8 v-3.2 M190.61,138.3 v3.2 M211.08,314.8 v-4.2 M211.08,138.3 v4.2 M231.55,314.8 v-3.2 M231.55,138.3 v3.2 M252.02,314.8 v-4.2 M252.02,138.3 v4.2 M272.49,314.8 v-3.2 M272.49,138.3 v3.2 M292.96,314.8 v-4.2 M292.96,138.3 v4.2 M313.43,314.8 v-3.2 M313.43,138.3 v3.2 M333.90,314.8 v-4.2 M333.90,138.3 v4.2 M129.2,297.15 h3.2 M354.5,297.15 h-3.2 M129.2,279.50 h4.2 M354.5,279.50 h-4.2 M129.2,261.85 h3.2 M354.5,261.85 h-3.2 M129.2,244.20 h4.2 M354.5,244.20 h-4.2 M129.2,226.55 h3.2 M354.5,226.55 h-3.2 M129.2,208.90 h4.2 M354.5,208.90 h-4.2 M129.2,191.25 h3.2 M354.5,191.25 h-3.2 M129.2,173.60 h4.2 M354.5,173.60 h-4.2 M129.2,155.95 h3.2 M354.5,155.95 h-3.2" stroke="#000" stroke-width="1.4" fill="none"/>
<text x="124.7" y="319.10" font-size="15.2" font-weight="bold" text-anchor="end">594</text>
<text x="124.7" y="283.80" font-size="15.2" font-weight="bold" text-anchor="end">596</text>
<text x="124.7" y="248.50" font-size="15.2" font-weight="bold" text-anchor="end">598</text>
<text x="124.7" y="213.20" font-size="15.2" font-weight="bold" text-anchor="end">600</text>
<text x="124.7" y="177.90" font-size="15.2" font-weight="bold" text-anchor="end">602</text>
<text x="124.7" y="142.60" font-size="15.2" font-weight="bold" text-anchor="end">604</text>
<text x="129.20" y="330.5" font-size="15.2" font-weight="bold" text-anchor="middle">0</text>
<text x="170.14" y="330.5" font-size="15.2" font-weight="bold" text-anchor="middle">2</text>
<text x="211.08" y="330.5" font-size="15.2" font-weight="bold" text-anchor="middle">4</text>
<text x="252.02" y="330.5" font-size="15.2" font-weight="bold" text-anchor="middle">6</text>
<text x="292.96" y="330.5" font-size="15.2" font-weight="bold" text-anchor="middle">8</text>
<text x="333.90" y="330.5" font-size="15.2" font-weight="bold" text-anchor="middle">10</text>
<path d="M149.67,156.83 L333.90,211.55" stroke="#0505f2" stroke-width="2"/>
<rect x="147.07" y="158.64" width="5.2" height="5.2" fill="#0505f2"/>
<rect x="228.95" y="171.00" width="5.2" height="5.2" fill="#0505f2"/>
<rect x="331.30" y="212.48" width="5.2" height="5.2" fill="#0505f2"/>
<path d="M153.15,245.08 L330.83,275.09" stroke="#000" stroke-width="1.7" stroke-dasharray="1.8 2.6"/>
<path d="M149.67,239.35 L152.87,244.95 L146.47,244.95 Z" fill="#fff" stroke="#000" stroke-width="0.8" stroke-linejoin="miter"/>
<path d="M231.55,257.89 L234.75,263.49 L228.35,263.49 Z" fill="#fff" stroke="#000" stroke-width="0.8" stroke-linejoin="miter"/>
<path d="M333.90,271.13 L337.10,276.73 L330.70,276.73 Z" fill="#fff" stroke="#000" stroke-width="0.8" stroke-linejoin="miter"/>
<path d="M149.67,268.91 L157.97,270.45 M170.47,272.78 L178.77,274.32 M191.27,276.64 L199.57,278.18 M212.07,280.51 L220.37,282.05 M232.87,284.37 L241.17,285.92 M253.67,288.24 L261.97,289.78 M274.47,292.11 L282.77,293.65 M295.27,295.97 L303.57,297.51 M316.07,299.84 L324.37,301.38" stroke="#e8101a" stroke-width="1.9"/>
<circle cx="149.67" cy="268.91" r="2.9" fill="#fff" stroke="#ea0a12" stroke-width="0.8"/><circle cx="149.67" cy="268.91" r="0.6" fill="#ea0a12"/>
<circle cx="231.55" cy="288.32" r="2.9" fill="#fff" stroke="#ea0a12" stroke-width="0.8"/><circle cx="231.55" cy="288.32" r="0.6" fill="#ea0a12"/>
<circle cx="333.90" cy="302.44" r="2.9" fill="#fff" stroke="#ea0a12" stroke-width="0.8"/><circle cx="333.90" cy="302.44" r="0.6" fill="#ea0a12"/>
</svg>
</body></html>
